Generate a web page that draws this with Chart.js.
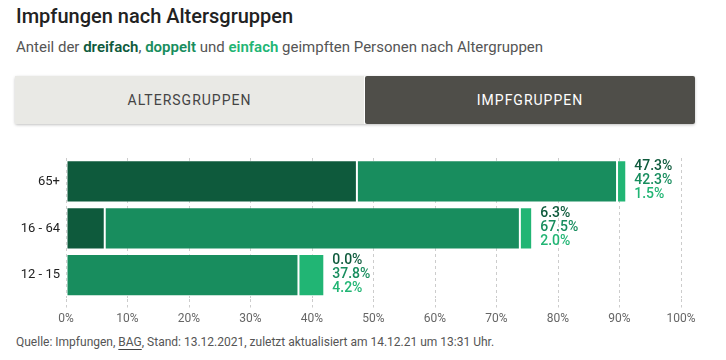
<!DOCTYPE html>
<html>
<head>
<meta charset="utf-8">
<script src="https://cdn.jsdelivr.net/npm/chart.js@4"></script>
<style>
  html, body { margin: 0; padding: 0; background: #fff; }
  body { width: 726px; height: 360px; position: relative; overflow: hidden; font-family: Roboto, "Noto Sans", sans-serif; }
  h1 { position: absolute; left: 16px; top: 4px; margin: 0; font-size: 20px; font-weight: 500; color: #222; }
  .sub { position: absolute; left: 16px; top: 38px; font-size: 15px; color: #555; }
  .sub b { font-weight: 600; }
  .tabs { position: absolute; left: 15px; top: 76px; width: 680px; height: 48px; display: flex; box-shadow: 0 1px 3px rgba(0,0,0,0.25); border-radius: 2px; }
  .tab { display: flex; align-items: center; justify-content: center; font-size: 14px; letter-spacing: 1px; }
  .tab.off { width: 349px; background: #e9e9e5; color: #444; }
  .tab.on { flex: 1; margin-left: 1px; background: #4f4e49; color: #fff; border-radius: 2px; }
  #wrap { position: absolute; left: 0; top: 140px; width: 726px; height: 190px; }
  .src { position: absolute; left: 16px; top: 335px; font-size: 12px; color: #555; }
  .src u { text-decoration-color: #444; text-underline-offset: 3px; }
</style>
</head>
<body>
<h1>Impfungen nach Altersgruppen</h1>
<div class="sub">Anteil der <b style="color:#0e5a3c">dreifach</b>, <b style="color:#188d5e">doppelt</b> und <b style="color:#21b574">einfach</b> geimpften Personen nach Altergruppen</div>
<div class="tabs"><div class="tab off">ALTERSGRUPPEN</div><div class="tab on">IMPFGRUPPEN</div></div>
<div id="wrap"><canvas id="chart"></canvas></div>
<div class="src">Quelle: Impfungen, <u>BAG</u>, Stand: 13.12.2021, zuletzt aktualisiert am 14.12.21 um 13:31 Uhr.</div>
<script>
const ageGroups = ['65+', '16 - 64', '12 - 15'];
const dreifach = [47.3, 6.3, 0.0];
const doppelt = [42.3, 67.5, 37.8];
const einfach = [1.5, 2.0, 4.2];
const colors = ['#0e5a3c', '#188d5e', '#21b574'];

const valueLabels = {
    id: 'valueLabels',
    afterDatasetsDraw(chart) {
        const ctx = chart.ctx;
        const last = chart.getDatasetMeta(chart.data.datasets.length - 1);
        ctx.save();
        ctx.font = '500 14px Roboto, "Noto Sans", sans-serif';
        ctx.textBaseline = 'middle';
        last.data.forEach((bar, i) => {
            const top = bar.y - bar.height / 2;
            chart.data.datasets.forEach((ds, j) => {
                ctx.fillStyle = colors[j];
                ctx.fillText(ds.data[i].toFixed(1) + '%', bar.x + 8, top + 6 + j * 14);
            });
        });
        ctx.restore();
    }
};

new Chart(document.getElementById('chart'), {
    type: 'bar',
    data: {
        labels: ageGroups,
        datasets: [
            { label: 'dreifach', data: dreifach, backgroundColor: colors[0] },
            { label: 'doppelt', data: doppelt, backgroundColor: colors[1] },
            { label: 'einfach', data: einfach, backgroundColor: colors[2] }
        ].map(d => Object.assign(d, { borderColor: 'rgba(255,255,255,0.35)', borderWidth: 1, borderSkipped: false, categoryPercentage: 1, barPercentage: 0.9 }))
    },
    options: {
        indexAxis: 'y',
        responsive: true,
        maintainAspectRatio: false,
        animation: false,
        layout: { padding: { top: 18, right: 45, bottom: 0, left: 0 } },
        plugins: { legend: { display: false }, tooltip: { enabled: false } },
        scales: {
            x: {
                stacked: true,
                min: 0,
                max: 100,
                ticks: { stepSize: 10, callback: v => v + '%', color: '#666', font: { size: 12, family: 'Roboto' }, padding: 4 },
                grid: { color: '#ccc', tickColor: '#ccc', tickLength: 9, tickBorderDash: [3, 3] },
                border: { display: true, color: 'rgba(0,0,0,0)', dash: [3, 3] }
            },
            y: {
                stacked: true,
                afterFit(scale) { scale.width = 66; },
                ticks: { color: '#222', font: { size: 13, family: 'Roboto' }, padding: 6 },
                grid: { display: false, drawTicks: false },
                border: { display: false }
            }
        }
    },
    plugins: [valueLabels]
});
</script>
</body>
</html>
